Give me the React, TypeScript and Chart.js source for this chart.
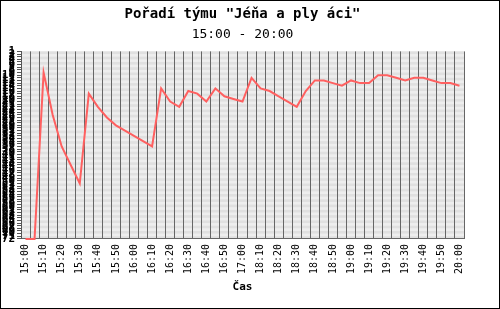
import React, { useEffect, useRef } from "react";
import { Chart, registerables } from "chart.js";

Chart.register(...registerables);

const times: string[] = [
  "15:00", "15:05", "15:10", "15:15", "15:20", "15:25", "15:30", "15:35", "15:40", "15:45",
  "15:50", "15:55", "16:00", "16:05", "16:10", "16:15", "16:20", "16:25", "16:30", "16:35",
  "16:40", "16:45", "16:50", "16:55", "17:00", "18:05", "18:10", "18:15", "18:20", "18:25",
  "18:30", "18:35", "18:40", "18:45", "18:50", "18:55", "19:00", "19:05", "19:10", "19:15",
  "19:20", "19:25", "19:30", "19:35", "19:40", "19:45", "19:50", "19:55", "20:00",
];

const rank: number[] = [
  72, 72, 9, 25, 37, 44, 51, 17, 22, 26,
  29, 31, 33, 35, 37, 15, 20, 22, 16, 17,
  20, 15, 18, 19, 20, 11, 15, 16, 18, 20,
  22, 16, 12, 12, 13, 14, 12, 13, 13, 10,
  10, 11, 12, 11, 11, 12, 13, 13, 14,
];

const teamCount = 72;
const titleText = 'Pořadí týmu "Jéňa a ply áci"';
const subtitleText = "15:00 - 20:00";
const xTitle = "Čas";

const MONO = "'DejaVu Sans Mono', monospace";

const bandsPlugin = {
  id: "bands",
  beforeDraw(chart: any) {
    const { ctx, chartArea } = chart;
    const y = chart.scales.y;
    ctx.save();
    ctx.fillStyle = "#eeeeee";
    ctx.fillRect(chartArea.left, chartArea.top, chartArea.right - chartArea.left, chartArea.bottom - chartArea.top);
    ctx.fillStyle = "#e0e0e0";
    for (let v = 1; v < teamCount; v += 2) {
      const a = y.getPixelForValue(v);
      const b = y.getPixelForValue(v + 1);
      ctx.fillRect(chartArea.left, Math.min(a, b), chartArea.right - chartArea.left, Math.abs(b - a));
    }
    ctx.restore();
  },
};

const framePlugin = {
  id: "frame",
  afterDraw(chart: any) {
    const { ctx } = chart;
    ctx.save();
    ctx.strokeStyle = "#000";
    ctx.lineWidth = 1;
    ctx.strokeRect(0.5, 0.5, chart.width - 1, chart.height - 1);
    ctx.restore();
  },
};

export default function App() {
  const ref = useRef<HTMLCanvasElement | null>(null);

  useEffect(() => {
    document.body.style.margin = "0";
    const canvas = ref.current;
    if (!canvas) return;
    const chart = new Chart(canvas, {
      type: "line",
      data: {
        labels: times,
        datasets: [
          {
            data: rank,
            borderColor: "#ff6060",
            borderWidth: 2,
            pointRadius: 0,
            tension: 0,
            fill: false,
            clip: 2,
          },
        ],
      },
      options: {
        responsive: false,
        animation: false,
        devicePixelRatio: 1,
        layout: { padding: { left: 0, right: 36, top: 1, bottom: 16 } },
        plugins: {
          legend: { display: false },
          tooltip: { enabled: false },
          title: {
            display: true,
            text: titleText,
            fullSize: false,
            color: "#000",
            font: { family: MONO, size: 14, weight: "bold" },
            padding: { top: 5, bottom: 3 },
          },
          subtitle: {
            display: true,
            text: subtitleText,
            fullSize: false,
            color: "#000",
            font: { family: MONO, size: 13, weight: "normal" },
            padding: { top: 1, bottom: 9 },
          },
        },
        scales: {
          x: {
            type: "category",
            offset: true,
            grid: {
              offset: true,
              color: "#666",
              lineWidth: 1,
              drawTicks: false,
            },
            border: { display: true, color: "#666" },
            ticks: {
              autoSkip: false,
              minRotation: 90,
              maxRotation: 90,
              padding: 5,
              color: "#000",
              font: { family: MONO, size: 10 },
              callback: (_v: any, i: number) => (i % 2 === 0 ? times[i] : ""),
            },
            title: {
              display: true,
              text: xTitle,
              color: "#000",
              font: { family: MONO, size: 11, weight: "bold", lineHeight: 1 },
              padding: { top: 3, bottom: 0 },
            },
          },
          y: {
            type: "linear",
            reverse: true,
            min: 1,
            max: teamCount,
            grid: {
              drawOnChartArea: false,
              drawTicks: true,
              tickLength: 4,
              color: "#555",
            },
            border: { display: true, color: "#555" },
            ticks: {
              stepSize: 1,
              autoSkip: false,
              padding: 2,
              color: "#000",
              font: { family: MONO, size: 11, weight: "bold" },
            },
            afterFit: (scale: any) => {
              scale.width = 21;
            },
          },
        },
      },
      plugins: [bandsPlugin, framePlugin],
    } as any);
    return () => chart.destroy();
  }, []);

  return <canvas ref={ref} width={500} height={309} style={{ display: "block" }} />;
}
